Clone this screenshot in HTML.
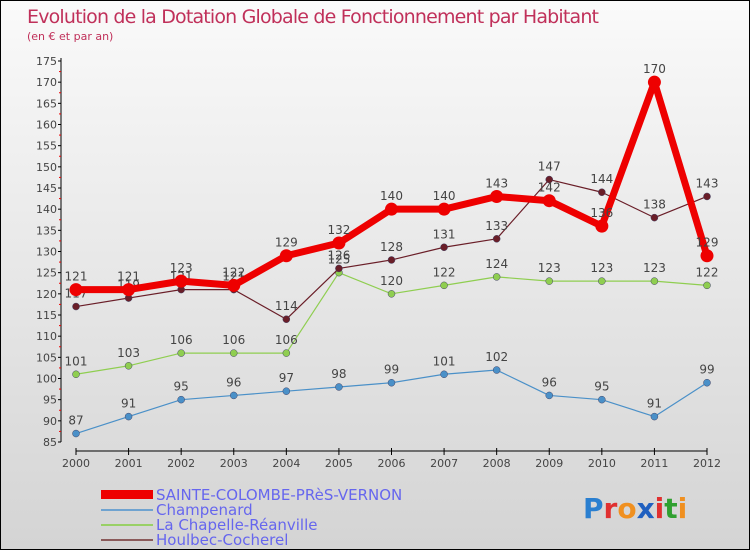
<!DOCTYPE html>
<html><head><meta charset="utf-8"><style>
body{margin:0}
#wrap{width:748px;height:548px;border:1px solid #000;background:linear-gradient(#fafafa,#d4d4d4);position:relative;font-family:"DejaVu Sans","Liberation Sans",sans-serif;overflow:hidden}
svg text{font-family:"DejaVu Sans","Liberation Sans",sans-serif}
</style></head><body>
<div id="wrap">
<svg id="s" width="748" height="548">
<text x="26" y="22" font-size="19" fill="#c0305a" textLength="572">Evolution de la Dotation Globale de Fonctionnement par Habitant</text>
<text x="26" y="39" font-size="11" fill="#c0305a">(en € et par an)</text>
<g id="g"></g>
<g>
<rect x="100" y="489" width="52" height="9" fill="#e00"/>
<text x="155" y="499" font-size="15" fill="#6666ee">SAINTE-COLOMBE-PRèS-VERNON</text>
<rect x="100" y="508" width="52" height="2" fill="#6fa3d0"/>
<text x="155" y="514" font-size="15" fill="#6666ee">Champenard</text>
<rect x="100" y="523" width="52" height="2" fill="#99d066"/>
<text x="155" y="529" font-size="15" fill="#6666ee">La Chapelle-Réanville</text>
<rect x="100" y="538" width="52" height="2" fill="#8a5a5a"/>
<text x="155" y="544" font-size="15" fill="#6666ee">Houlbec-Cocherel</text>
</g>
<g font-size="28" font-weight="bold">
<text x="582" y="517"><tspan fill="#2a7fd0">P</tspan><tspan fill="#e03030">r</tspan><tspan fill="#f09020">o</tspan><tspan fill="#2060c0">x</tspan><tspan fill="#e03030">i</tspan><tspan fill="#30a030">t</tspan><tspan fill="#f09020">i</tspan></text>
</g>
</svg>
</div>
<script>
const years=[2000,2001,2002,2003,2004,2005,2006,2007,2008,2009,2010,2011,2012];
const sainte=[121,121,123,122,129,132,140,140,143,142,136,170,129];
const champ=[87,91,95,96,97,98,99,101,102,96,95,91,99];
const chap=[101,103,106,106,106,125,120,122,124,123,123,123,122];
const houl=[117,119,121,121,114,126,128,131,133,147,144,138,143];
const yTicks=[85,90,95,100,105,110,115,120,125,130,135,140,145,150,155,160,165,170,175];
const NS="http://www.w3.org/2000/svg";
const g=document.getElementById('g');
const X=i=>75+i*(631/12);
const Y=v=>441-(v-85)*(381/90);
function el(t,a,p){const e=document.createElementNS(NS,t);for(const k in a)e.setAttribute(k,a[k]);(p||g).appendChild(e);return e;}
// axes
let ax=el('line',{x1:60,y1:57,x2:60,y2:441,stroke:'#000','stroke-width':1});


yTicks.forEach(v=>{
 el('line',{x1:57,x2:60,y1:Y(v),y2:Y(v),stroke:'#000'});
 if(v<175){const m=el('line',{x1:58,x2:60,y1:Y(v+2.5),y2:Y(v+2.5),stroke:'#e00'});}
 const t=el('text',{x:56,y:Y(v)+4,'font-size':11,fill:'#444','text-anchor':'end'});t.textContent=v;
 
 
});
let xa=el('line',{x1:75,y1:450,x2:706,y2:450,stroke:'#000'});


years.forEach((y,i)=>{
 el('line',{x1:X(i),x2:X(i),y1:447,y2:454,stroke:'#000'});
 const t=el('text',{x:X(i),y:466,'font-size':11,fill:'#444','text-anchor':'middle'});t.textContent=y;
 
 
});
function series(d,col,w,r,name,labels){
 const p=el('polyline',{points:d.map((v,i)=>X(i)+','+Y(v)).join(' '),fill:'none',stroke:col,'stroke-width':w,'stroke-linejoin':'round'});
 
 
 d.forEach((v,i)=>{
  const c=el('circle',{cx:X(i),cy:Y(v),r:r,fill:col,stroke:w>3?'none':'#446','stroke-width':0.5});
  
  
  if(labels){const t=el('text',{x:X(i),y:Y(v)-9,'font-size':12,fill:'#444','text-anchor':'middle'});t.textContent=v;
  
  }
 });
}
series(champ,'#4a90c8',1.2,3.5,'champenard',true);
series(chap,'#8fce50',1.2,3.5,'chapelle',true);
series(houl,'#6a1e28',1.2,3.5,'houlbec',true);
series(sainte,'#ee0000',7,6.5,'sainte-colombe',true);
</script>
</body></html>
